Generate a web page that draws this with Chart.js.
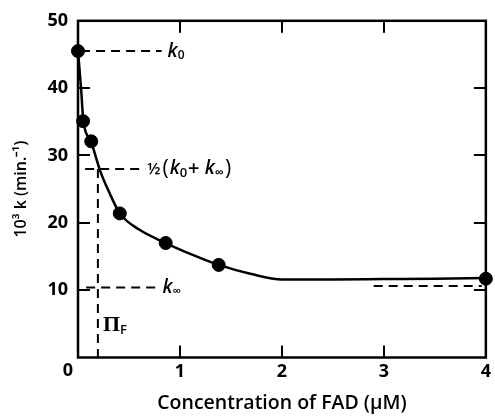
<!DOCTYPE html>
<html>
<head>
  <title>FAD concentration</title>
  <script src="https://cdn.jsdelivr.net/npm/chart.js"></script>
  <style>
    body { margin: 0; background: #fff; }
    #wrap { width: 495px; height: 416px; }
  </style>
</head>
<body>
  <div id="wrap">
    <canvas id="fad-chart" width="495" height="416"></canvas>
  </div>
  <script>
    // measured points
    const pointX = [0, 0.05, 0.13, 0.41, 0.86, 1.38, 4];
    const pointY = [45.5, 35.1, 32.1, 21.4, 17.0, 13.75, 11.7];

    // fitted curve
    const curveX = [0, 0.03, 0.05, 0.13, 0.22, 0.31, 0.41, 0.6, 0.86, 1.1, 1.38, 1.7, 2.0, 2.5, 3.0, 3.5, 4.0];
    const curveY = [45.5, 40.0, 35.6, 32.0, 27.6, 24.4, 21.4, 19.0, 17.0, 15.4, 13.75, 12.4, 11.6, 11.6, 11.65, 11.7, 11.8];

    // dashed guide lines
    const k0X = [0.03, 0.82], k0Y = [45.5, 45.5];
    const halfX = [0.07, 0.66], halfY = [28.0, 28.0];
    const pifX = [0.195, 0.195], pifY = [28.0, 0];
    const kInfX = [0.08, 0.79], kInfY = [10.4, 10.4];
    const kInfRightX = [2.9, 3.96], kInfRightY = [10.6, 10.6];

    const xTicks = [0, 1, 2, 3, 4];
    const yTicks = [0, 10, 20, 30, 40, 50];
    const innerX = [1, 2, 3];
    const innerY = [10, 20, 30, 40];

    const toXY = (xs, ys) => xs.map((x, i) => ({ x: x, y: ys[i] }));

    function dashed(xs, ys) {
      return {
        type: "line",
        data: toXY(xs, ys),
        borderColor: "#000",
        borderWidth: 2,
        borderDash: [9, 6],
        pointRadius: 0,
        tension: 0,
        order: 3
      };
    }

    // frame, inside ticks and text labels
    const decor = {
      id: "decor",
      afterDraw(chart) {
        const c = chart.ctx;
        const a = chart.chartArea;
        const xs = chart.scales.x, ys = chart.scales.y;
        c.save();
        c.setLineDash([]);
        c.strokeStyle = "#000";
        c.fillStyle = "#000";
        c.lineWidth = 2.5;
        c.strokeRect(a.left, a.top, a.right - a.left, a.bottom - a.top);

        const tl = 12;
        innerX.forEach(v => {
          const px = Math.round(xs.getPixelForValue(v));
          c.fillRect(px - 1, a.bottom - tl, 2, tl);
          c.fillRect(px - 1, a.top, 2, tl);
        });
        innerY.forEach(v => {
          const py = Math.round(ys.getPixelForValue(v));
          c.fillRect(a.left, py - 1, tl, 2);
          c.fillRect(a.right - tl, py - 1, tl, 2);
        });

        const ital = "italic 600 19px 'Open Sans'";
        const sub = "600 12px 'Open Sans'";

        function runs(x, y, parts) {
          parts.forEach(p => {
            c.font = p[1];
            c.fillText(p[0], x, y + (p[2] || 0));
            x += c.measureText(p[0]).width + (p[3] || 0);
          });
        }

        // origin label
        c.font = "bold 18px 'Open Sans'";
        c.textAlign = "center";
        c.textBaseline = "top";
        c.fillText("0", xs.getPixelForValue(0) - 10, a.bottom + 4);
        c.textAlign = "left";
        c.textBaseline = "middle";

        runs(xs.getPixelForValue(0.82) + 6, ys.getPixelForValue(45.5), [["k", ital], ["0", sub, 4]]);
        runs(xs.getPixelForValue(0.79) + 4, ys.getPixelForValue(10.4), [["k", ital], ["\u221E", sub, 4]]);
        runs(xs.getPixelForValue(0.66) + 2, ys.getPixelForValue(28.0), [
          ["\u00BD", "600 16px 'Open Sans'", 0, 2],
          ["(", "400 21px 'Open Sans'", 0, 1],
          ["k", ital], ["0", "600 13px 'Open Sans'", 4, 1],
          ["+ ", "600 20px 'Open Sans'"],
          ["k", ital], ["\u221E", "600 13px 'Open Sans'", 4, 1],
          [")", "400 21px 'Open Sans'"]
        ]);
        runs(xs.getPixelForValue(0.195) + 5, ys.getPixelForValue(4.8), [
          ["\u03A0", "bold 22px 'Liberation Serif'"],
          ["F", "600 13px 'Open Sans'", 5]
        ]);
        c.restore();
      }
    };

    const ctx = document.getElementById("fad-chart").getContext("2d");
    new Chart(ctx, {
      data: {
        datasets: [
          {
            type: "scatter",
            data: toXY(pointX, pointY),
            backgroundColor: "#000",
            borderColor: "#000",
            pointRadius: 6.5,
            pointHoverRadius: 6.5,
            clip: false,
            order: 1
          },
          {
            type: "line",
            data: toXY(curveX, curveY),
            borderColor: "#000",
            borderWidth: 2.5,
            pointRadius: 0,
            cubicInterpolationMode: "monotone",
            order: 2
          },
          dashed(k0X, k0Y),
          dashed(halfX, halfY),
          dashed(pifX, pifY),
          dashed(kInfX, kInfY),
          dashed(kInfRightX, kInfRightY)
        ]
      },
      options: {
        responsive: false,
        animation: false,
        events: [],
        layout: { padding: { top: 16, right: 3, left: 0, bottom: 0 } },
        plugins: { legend: { display: false }, tooltip: { enabled: false } },
        scales: {
          x: {
            type: "linear",
            min: 0,
            max: 4,
            afterFit(scale) { scale.height = 58.5; },
            afterBuildTicks(scale) { scale.ticks = xTicks.map(v => ({ value: v })); },
            grid: { display: false, drawTicks: false },
            border: { display: false },
            ticks: {
              color: "#000",
              padding: 4,
              maxRotation: 0,
              font: { family: "'Open Sans'", size: 18, weight: "bold" },
              callback: v => (v === 0 ? "" : String(v))
            },
            title: {
              display: true,
              text: "Concentration of FAD (\u03BCM)",
              color: "#000",
              padding: { top: 0, bottom: 1 },
              font: { family: "'Open Sans'", size: 19.5, weight: "600" }
            }
          },
          y: {
            type: "linear",
            min: 0,
            max: 50,
            afterFit(scale) { scale.width = 78; },
            afterBuildTicks(scale) { scale.ticks = yTicks.map(v => ({ value: v })); },
            grid: { display: false, drawTicks: false },
            border: { display: false },
            ticks: {
              color: "#000",
              padding: 10,
              font: { family: "'Open Sans'", size: 18, weight: "bold" },
              callback: v => (v === 0 ? "" : String(v))
            },
            title: {
              display: true,
              text: "10\u00B3 k (min.\u207B\u00B9)",
              color: "#000",
              padding: { top: 12, bottom: 0 },
              font: { family: "'Open Sans'", size: 16, weight: "600" }
            }
          }
        }
      },
      plugins: [decor]
    });
  </script>
</body>
</html>
